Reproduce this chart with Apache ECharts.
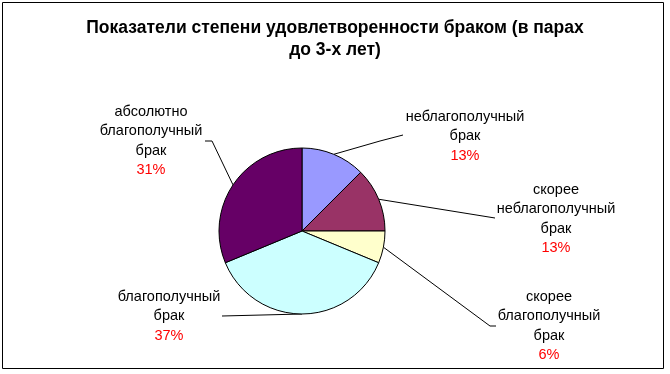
<!DOCTYPE html>
<html><head><meta charset="utf-8">
<script src="https://cdn.jsdelivr.net/npm/echarts@6/dist/echarts.min.js"></script>
<style>html,body{margin:0;padding:0;background:#fff}#c{width:670px;height:374px}</style>
</head><body><div id="c"></div>
<script>
const titleText = 'Показатели степени удовлетворенности браком (в парах\nдо 3-х лет)';
const categories = ['неблагополучный\nбрак', 'скорее\nнеблагополучный\nбрак', 'скорее\nблагополучный\nбрак', 'благополучный\nбрак', 'абсолютно\nблагополучный\nбрак'];
const values = [12.5, 12.5, 6.25, 37.5, 31.25];
const percentLabels = ['13%', '13%', '6%', '37%', '31%'];
const colors = ['#9999FF', '#993366', '#FFFFCC', '#CCFFFF', '#660066'];

// label placement (style): label centre and leader-line bend points
const labelPlaces = [
  {x: 465, y: 136, line: [[380, 141], [403, 135]]},
  {x: 556, y: 219, line: [[495, 218]]},
  {x: 549, y: 326, line: [[490, 326], [496, 326]]},
  {x: 169, y: 316, line: [[222, 316]]},
  {x: 151, y: 141, line: [[212, 141], [205, 141]]}
];

const chart = echarts.init(document.getElementById('c'), null, {renderer: 'canvas'});
const option = {
  animation: false,
  graphic: [{
    type: 'rect', shape: {x: 2.5, y: 2.5, width: 661, height: 366},
    style: {fill: 'none', stroke: '#000', lineWidth: 1}, silent: true, z: -1
  }],
  title: {
    text: titleText, left: 'center', top: 12,
    textStyle: {fontFamily: 'Liberation Sans, Arial', fontSize: 17.5, fontWeight: 'bold', color: '#000', lineHeight: 22}
  },
  series: [{
    type: 'pie',
    center: [302, 231],
    radius: 83,
    startAngle: 90,
    clockwise: true,
    color: colors,
    itemStyle: {borderColor: '#000', borderWidth: 1},
    data: categories.map((n, i) => ({name: n, value: values[i]})),
    label: {
      show: true,
      formatter: (p) => p.name.split('\n').map(s => '{n|' + s + '}').join('\n') + '\n{p|' + percentLabels[p.dataIndex] + '}',
      rich: {
        n: {fontFamily: 'Liberation Sans, Arial', fontSize: 14.5, color: '#000', lineHeight: 19.5, align: 'center'},
        p: {fontFamily: 'Liberation Sans, Arial', fontSize: 14.5, color: '#FF0000', lineHeight: 19.5, align: 'center'}
      }
    },
    labelLine: {show: true, lineStyle: {color: '#000', width: 1}},
    labelLayout: function (params) {
      const pl = labelPlaces[params.dataIndex];
      const start = params.labelLinePoints ? params.labelLinePoints[0] : [0, 0];
      return {
        x: pl.x, y: pl.y, align: 'center', verticalAlign: 'middle',
        labelLinePoints: [start].concat(pl.line)
      };
    },
    emphasis: {disabled: true}
  }]
};
chart.setOption(option);
</script>
</body></html>
